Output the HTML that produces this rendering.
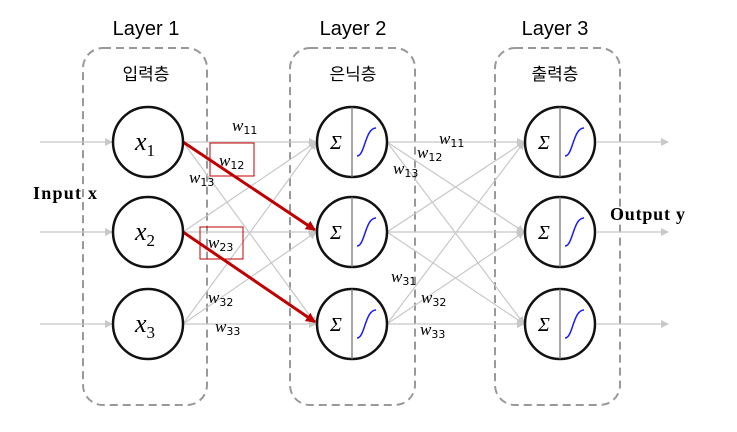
<!DOCTYPE html>
<html><head><meta charset="utf-8"><style>
body{margin:0;background:#fff;}
svg{display:block;font-family:"Liberation Sans","Noto Sans CJK KR",sans-serif;}
.w{font-family:"Liberation Serif",serif;font-style:italic;font-size:17px;fill:#000;}
.s{font-size:11px;font-style:normal;font-family:"DejaVu Sans",sans-serif;}
</style></head><body>
<svg width="737" height="432" viewBox="0 0 737 432">
<defs>
<marker id="ag" markerWidth="8" markerHeight="8" refX="7" refY="4" orient="auto" markerUnits="userSpaceOnUse"><path d="M0,0L8,4L0,8z" fill="#c8c8c8"/></marker>
<marker id="ar" markerWidth="10" markerHeight="10" refX="9" refY="5" orient="auto" markerUnits="userSpaceOnUse"><path d="M0,0L10,5L0,10z" fill="#c00000"/></marker>
</defs>
<g fill="none" stroke="#999" stroke-width="2" stroke-dasharray="8,5">
<rect x="83" y="48" width="124" height="357" rx="20"/>
<rect x="290" y="48" width="125" height="357" rx="20"/>
<rect x="495" y="48" width="125" height="357" rx="20"/>
</g>
<g font-size="20" fill="#000" text-anchor="middle">
<text x="146" y="35">Layer 1</text>
<text x="353" y="35">Layer 2</text>
<text x="555" y="35">Layer 3</text>
<text x="146" y="80" font-size="17">입력층</text>
<text x="353" y="80" font-size="17">은닉층</text>
<text x="555" y="80" font-size="17">출력층</text>
</g>
<g id="edges" stroke="#c8c8c8" stroke-width="1.2" marker-end="url(#ag)"></g>
<g fill="none" stroke="#c00000" stroke-width="3" marker-end="url(#ar)">
<line x1="183" y1="142" x2="315" y2="230"/>
<line x1="183" y1="232" x2="315" y2="322"/>
</g>
<g fill="none" stroke="#c00000" stroke-width="1">
<rect x="210" y="143" width="44" height="33"/>
<rect x="200" y="227" width="43" height="32"/>
</g>
<g id="nodes"></g>
<g>
<text class="w" x="232" y="131">w<tspan class="s" dy="3">11</tspan></text>
<text class="w" x="219" y="166">w<tspan class="s" dy="3">12</tspan></text>
<text class="w" x="189" y="183">w<tspan class="s" dy="3">13</tspan></text>
<text class="w" x="208" y="248">w<tspan class="s" dy="3">23</tspan></text>
<text class="w" x="208" y="303">w<tspan class="s" dy="3">32</tspan></text>
<text class="w" x="215" y="332">w<tspan class="s" dy="3">33</tspan></text>
<text class="w" x="439" y="144">w<tspan class="s" dy="3">11</tspan></text>
<text class="w" x="417" y="158">w<tspan class="s" dy="3">12</tspan></text>
<text class="w" x="393" y="174">w<tspan class="s" dy="3">13</tspan></text>
<text class="w" x="391" y="282">w<tspan class="s" dy="3">31</tspan></text>
<text class="w" x="421" y="303">w<tspan class="s" dy="3">32</tspan></text>
<text class="w" x="420" y="335">w<tspan class="s" dy="3">33</tspan></text>
</g>
<text x="33" y="199" font-family="Liberation Serif,serif" font-weight="bold" font-size="18" textLength="64">Input x</text>
<text x="610" y="220" font-family="Liberation Serif,serif" font-weight="bold" font-size="18" textLength="75">Output y</text>
</svg>
<script>
const ys=[142,232,324];
const L1=148,L2=352,L3=560,R=35;
const ns="http://www.w3.org/2000/svg";
const E=document.getElementById('edges'),N=document.getElementById('nodes');
function ln(x1,y1,x2,y2){const l=document.createElementNS(ns,'line');l.setAttribute('x1',x1);l.setAttribute('y1',y1);l.setAttribute('x2',x2);l.setAttribute('y2',y2);E.appendChild(l);}
ys.forEach(y=>{ln(40,y,L1-R-1,y);ln(L3+R+2,y,668,y);});
[[L1,L2],[L2,L3]].forEach(([a,b])=>ys.forEach(y1=>ys.forEach(y2=>ln(a+R,y1,b-R-1,y2))));
ys.forEach((y,i)=>{
 const c=document.createElementNS(ns,'circle');c.setAttribute('cx',L1);c.setAttribute('cy',y);c.setAttribute('r',R);c.setAttribute('fill','#fff');c.setAttribute('stroke','#111');c.setAttribute('stroke-width','2.5');
 
 
 N.appendChild(c);
 const t=document.createElementNS(ns,'text');t.setAttribute('x',L1-13);t.setAttribute('y',y+8);t.setAttribute('font-family','Liberation Serif,serif');t.setAttribute('font-style','italic');t.setAttribute('font-size','26');
 t.innerHTML='x<tspan font-size="17" font-style="normal" dy="6">'+(i+1)+'</tspan>';
 
 
 N.appendChild(t);
 [L2,L3].forEach(cx=>{
  const g=document.createElementNS(ns,'g');
  
  
  g.innerHTML=`<circle cx="${cx}" cy="${y}" r="${R}" fill="#fff" stroke="#111" stroke-width="2.5"/><line x1="${cx}" y1="${y-R}" x2="${cx}" y2="${y+R}" stroke="#777" stroke-width="1.3"/><text x="${cx-22}" y="${y+7}" font-family="Liberation Serif,serif" font-style="italic" font-size="20">Σ</text><path d="M${cx+5},${y+14} C${cx+13},${y+14} ${cx+13},${y-14} ${cx+24},${y-14}" fill="none" stroke="#1a1aff" stroke-width="1.5"/>`;
  N.appendChild(g);
 });
});
</script>
</body></html>
